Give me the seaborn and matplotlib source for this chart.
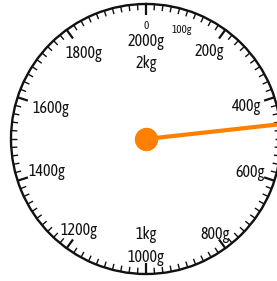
import matplotlib
matplotlib.use("Agg")
import matplotlib.pyplot as plt
import numpy as np
import seaborn as sns

# kitchen scale dial, values in grams
full_scale = 2000
minor_step = 20
major_values = [0, 200, 400, 600, 800, 1000, 1200, 1400, 1600, 1800]
major_labels = ["2000g", "200g", "400g", "600g", "800g", "1000g", "1200g", "1400g", "1600g", "1800g"]
small_values = [0, 100]
small_labels = ["0", "100g"]
kg_values = [0, 1000]
kg_labels = ["2kg", "1kg"]
needle_value = 465

sns.set_style("white")
# narrow lettering like the dial; DejaVu if the narrow faces are missing
plt.rcParams['font.family'] = ['Asap Condensed', 'Archivo Narrow', 'DejaVu Sans']

def to_theta(v):
    return np.asarray(v, dtype=float) / full_scale * 2 * np.pi

fig = plt.figure(figsize=(2.77, 2.81), dpi=100)
fig.patch.set_facecolor("white")
ax = fig.add_axes([11 / 277, 7 / 281, 270 / 277, 270 / 281], projection="polar")
ax.set_theta_zero_location("N")
ax.set_theta_direction(-1)
ax.set_ylim(0, 1)
ax.grid(False)
ax.set_xticks([])
ax.set_yticks([])
ax.spines["polar"].set_linewidth(1.7)
ax.spines["polar"].set_color("#111111")

# minor + major ticks, drawn inward from the rim
minor = [v for v in range(0, full_scale, minor_step) if v not in major_values]
ax.vlines(to_theta(minor), 0.955, 1.0, color="#111111", lw=1.0)
ax.vlines(to_theta(major_values), 0.92, 1.0, color="#111111", lw=1.6)

# labels (radius per label follows the original artwork)
label_r = [0.72, 0.80, 0.78, 0.81, 0.87, 0.88, 0.84, 0.77, 0.74, 0.78]
for v, lab, r in zip(major_values, major_labels, label_r):
    ax.text(to_theta(v), r, lab, ha="center", va="center", fontsize=11.5, color="#111111")
for v, lab, r in zip(small_values, small_labels, [0.84, 0.85]):
    ax.text(to_theta(v), r, lab, ha="center", va="center", fontsize=8, color="#111111")
for v, lab, r in zip(kg_values, kg_labels, [0.56, 0.71]):
    ax.text(to_theta(v), r, lab, ha="center", va="center", fontsize=11.5, color="#111111")

# needle
orange = "#ff8000"
ax.plot([to_theta(needle_value)] * 2, [0, 0.99], color=orange, lw=3, solid_capstyle="butt", clip_on=False)
ax.scatter([0], [0], s=250, color=orange, zorder=5, clip_on=False)

plt.savefig("out.png", dpi=100, facecolor="white")
